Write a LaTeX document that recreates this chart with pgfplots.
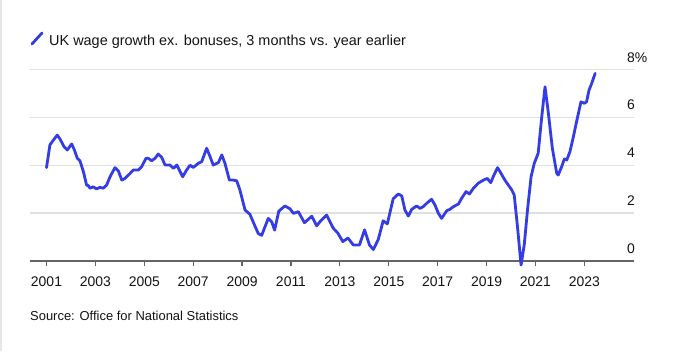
\documentclass[border=0pt]{standalone}
\usepackage{pgfplots}
\pgfplotsset{compat=1.18}
\usepackage{fontspec}
\setmainfont{Liberation Sans}
\definecolor{wageblue}{RGB}{52,60,228}
\definecolor{gridgray}{RGB}{224,224,224}
\definecolor{axisgray}{RGB}{100,100,100}
\definecolor{txt}{RGB}{20,20,20}
\begin{document}
\begin{tikzpicture}[x=1bp,y=1bp]
\useasboundingbox (0,0) rectangle (677,351);
\fill[white] (0,0) rectangle (677,351);
\draw[gridgray!80, line width=1.5bp] (0.75,0) -- (0.75,351);
\begin{axis}[
  at={(30bp,90bp)}, anchor=south west,
  scale only axis, width=604bp, height=191.5bp,
  xmin=2000.325, xmax=2025.03, ymin=0, ymax=8,
  clip=false,
  axis x line*=bottom, axis y line*=right,
  y axis line style={draw=none},
  x axis line style={draw=axisgray, line width=1.3bp},
  xtick={2001,2003,...,2023},
  xticklabels={2001,2003,2005,2007,2009,2011,2013,2015,2017,2019,2021,2023},
  ytick={0,2,4,6,8},
  yticklabels={0,2,4,6,8\%},
  ymajorgrids, grid style={draw=gridgray, line width=1.3bp},
  tick align=outside, major tick length=5bp,
  xtick style={draw=axisgray, line width=1.2bp},
  ytick style={draw=none},
  yticklabel pos=right,
  xticklabel style={font=\fontsize{14}{16}\selectfont, text=txt, anchor=base, inner sep=0pt, yshift=-20bp},
  yticklabel style={font=\fontsize{14}{16}\selectfont, text=txt, anchor=base west, inner sep=0pt, xshift=-12bp, yshift=7.5bp},
]
\addplot[wageblue, line width=2.8bp, line join=round, line cap=round] coordinates {
(2001.00,3.90) (2001.14,4.85) (2001.28,5.05) (2001.44,5.26) (2001.55,5.10)
(2001.72,4.77) (2001.85,4.64) (2002.03,4.89) (2002.14,4.64) (2002.26,4.29)
(2002.37,4.18) (2002.51,3.73) (2002.64,3.17) (2002.71,3.15) (2002.78,3.04)
(2002.91,3.10) (2003.05,3.01) (2003.19,3.08) (2003.32,3.04) (2003.46,3.17)
(2003.60,3.52) (2003.80,3.90) (2003.94,3.76) (2004.08,3.38) (2004.21,3.45)
(2004.42,3.66) (2004.55,3.80) (2004.76,3.80) (2004.89,3.94) (2005.07,4.29)
(2005.16,4.29) (2005.30,4.19) (2005.44,4.29) (2005.57,4.47) (2005.71,4.33)
(2005.85,4.01) (2006.05,4.01) (2006.19,3.87) (2006.33,4.01) (2006.57,3.52)
(2006.73,3.80) (2006.87,4.00) (2007.00,3.91) (2007.21,4.08) (2007.35,4.15)
(2007.55,4.71) (2007.69,4.36) (2007.82,4.01) (2008.03,4.11) (2008.17,4.43)
(2008.30,4.08) (2008.48,3.38) (2008.64,3.38) (2008.78,3.35) (2008.91,2.97)
(2009.12,2.13) (2009.32,1.95) (2009.53,1.45) (2009.66,1.15) (2009.80,1.07)
(2010.07,1.78) (2010.21,1.64) (2010.33,1.29) (2010.50,2.08) (2010.75,2.30)
(2010.96,2.18) (2011.10,1.99) (2011.30,2.06) (2011.55,1.60) (2011.85,1.87)
(2012.05,1.47) (2012.20,1.66) (2012.46,1.92) (2012.73,1.37) (2012.92,1.16)
(2013.12,0.81) (2013.33,0.96) (2013.55,0.67) (2013.80,0.67) (2014.01,1.30)
(2014.21,0.67) (2014.37,0.48) (2014.57,0.90) (2014.77,1.68) (2014.94,1.55)
(2015.18,2.60) (2015.39,2.80) (2015.53,2.72) (2015.66,2.13) (2015.80,1.88)
(2015.94,2.16) (2016.14,2.30) (2016.28,2.20) (2016.41,2.27) (2016.55,2.41)
(2016.75,2.58) (2016.89,2.34) (2017.03,1.99) (2017.16,1.78) (2017.37,2.10)
(2017.50,2.16) (2017.64,2.27) (2017.85,2.38) (2017.98,2.62) (2018.16,2.90)
(2018.30,2.80) (2018.46,3.04) (2018.66,3.25) (2018.87,3.38) (2019.03,3.45)
(2019.17,3.27) (2019.30,3.59) (2019.45,3.90) (2019.59,3.66) (2019.75,3.38)
(2019.89,3.17) (2020.03,2.97) (2020.13,2.76) (2020.27,1.37) (2020.41,-0.17)
(2020.54,0.67) (2020.68,2.20) (2020.82,3.52) (2020.95,4.08) (2021.11,4.50)
(2021.25,5.96) (2021.39,7.28) (2021.52,6.24) (2021.69,4.71) (2021.87,3.66)
(2021.93,3.59) (2022.07,3.94) (2022.18,4.26) (2022.28,4.22) (2022.41,4.57)
(2022.55,5.19) (2022.68,5.82) (2022.86,6.65) (2023.00,6.59) (2023.09,6.65)
(2023.19,7.14) (2023.30,7.42) (2023.44,7.84)
};
\end{axis}
\draw[wageblue, line width=2.8bp, line cap=round] (32,307) -- (42,318);
\node[anchor=base west, inner sep=0pt, text=txt, font=\fontsize{14.5}{17}\selectfont] at (49,306) {UK wage growth ex. bonuses, 3 months vs. year earlier};
\node[anchor=base west, inner sep=0pt, text=txt, font=\fontsize{13}{15}\selectfont] at (30,31) {Source: Office for National Statistics};
\end{tikzpicture}
\end{document}
